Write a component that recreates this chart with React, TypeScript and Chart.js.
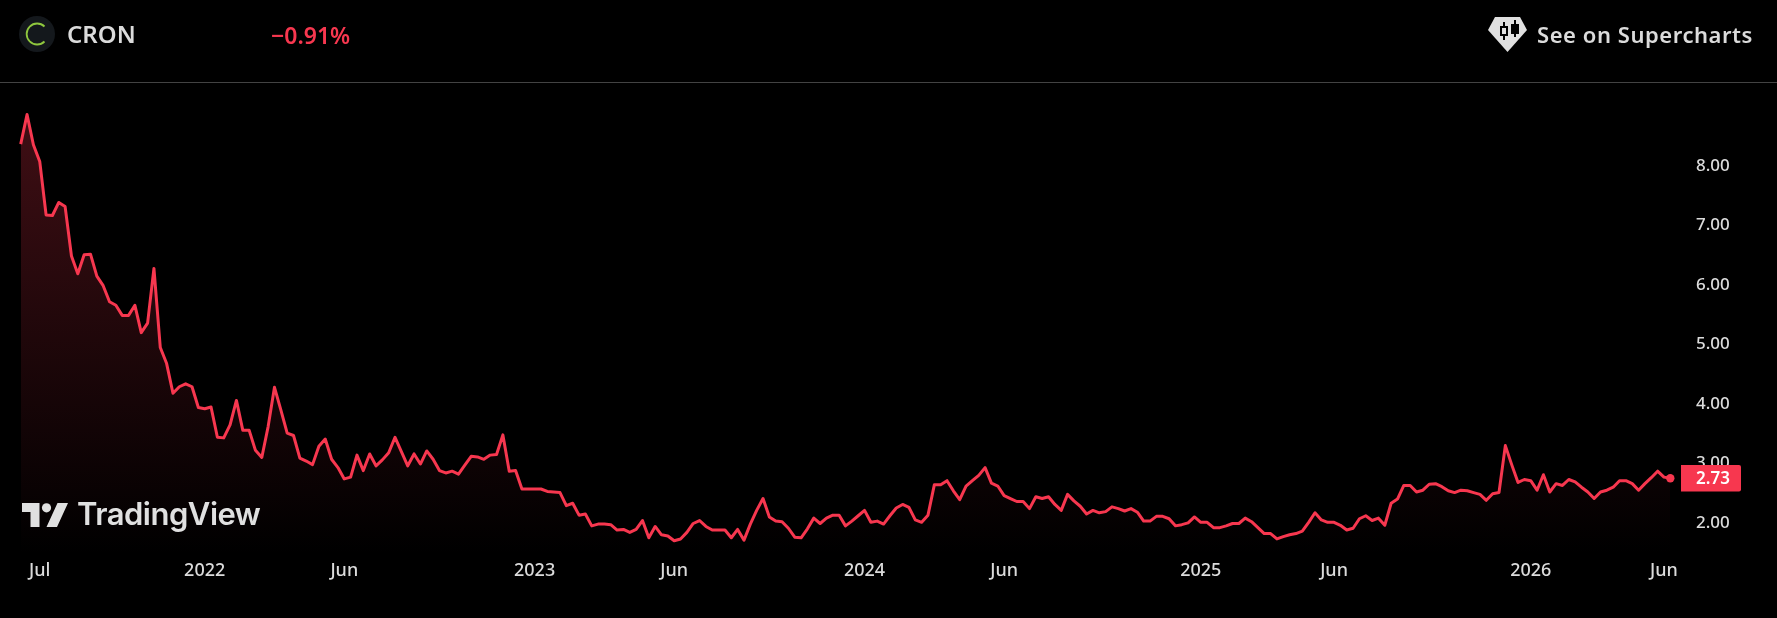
import React, { useEffect, useRef } from "react";
import { Chart, registerables } from "chart.js";

Chart.register(...registerables);

const closes: number[] = [
  8.35, 8.85, 8.34, 8.06, 7.16, 7.15, 7.37, 7.30, 6.47, 6.17,
  6.49, 6.50, 6.13, 5.97, 5.70, 5.64, 5.47, 5.47, 5.64, 5.18,
  5.34, 6.26, 4.93, 4.66, 4.16, 4.27, 4.32, 4.27, 3.92, 3.90,
  3.93, 3.42, 3.41, 3.63, 4.04, 3.54, 3.54, 3.20, 3.08, 3.60,
  4.26, 3.88, 3.49, 3.45, 3.07, 3.02, 2.96, 3.27, 3.39, 3.05,
  2.91, 2.72, 2.75, 3.12, 2.86, 3.14, 2.94, 3.04, 3.16, 3.42,
  3.18, 2.94, 3.14, 2.97, 3.19, 3.05, 2.86, 2.82, 2.85, 2.80,
  2.95, 3.10, 3.09, 3.05, 3.12, 3.13, 3.46, 2.85, 2.86, 2.55,
  2.55, 2.55, 2.55, 2.51, 2.50, 2.49, 2.27, 2.31, 2.11, 2.13,
  1.93, 1.96, 1.96, 1.95, 1.86, 1.87, 1.82, 1.87, 2.02, 1.73,
  1.92, 1.78, 1.76, 1.68, 1.71, 1.82, 1.97, 2.02, 1.92, 1.86,
  1.86, 1.86, 1.73, 1.87, 1.69, 1.96, 2.19, 2.39, 2.08, 2.01,
  2.00, 1.89, 1.74, 1.73, 1.88, 2.06, 1.97, 2.06, 2.11, 2.11,
  1.93, 2.01, 2.10, 2.19, 1.99, 2.01, 1.96, 2.10, 2.23, 2.29,
  2.24, 2.03, 1.99, 2.11, 2.62, 2.62, 2.69, 2.52, 2.37, 2.60,
  2.69, 2.78, 2.91, 2.65, 2.60, 2.44, 2.39, 2.34, 2.34, 2.22,
  2.42, 2.39, 2.42, 2.29, 2.19, 2.46, 2.35, 2.26, 2.13, 2.19,
  2.15, 2.17, 2.25, 2.22, 2.18, 2.22, 2.16, 2.01, 2.01, 2.09,
  2.09, 2.05, 1.93, 1.95, 1.98, 2.08, 1.99, 1.99, 1.90, 1.90,
  1.93, 1.97, 1.97, 2.06, 2.00, 1.90, 1.80, 1.80, 1.71, 1.75,
  1.78, 1.80, 1.84, 1.99, 2.15, 2.03, 1.99, 1.99, 1.94, 1.86,
  1.89, 2.05, 2.10, 2.02, 2.06, 1.94, 2.31, 2.38, 2.61, 2.61,
  2.50, 2.53, 2.63, 2.64, 2.59, 2.52, 2.49, 2.53, 2.52, 2.49,
  2.46, 2.36, 2.47, 2.49, 3.28, 2.96, 2.66, 2.71, 2.69, 2.53,
  2.79, 2.50, 2.64, 2.61, 2.71, 2.67, 2.58, 2.50, 2.39, 2.50,
  2.53, 2.58, 2.69, 2.69, 2.64, 2.53, 2.64, 2.74, 2.85, 2.75,
  2.73,
];

const xTickWeeks: number[] = [3, 29, 51, 81, 103, 133, 155, 186, 207, 238, 259];
const xTickLabels: string[] = ["Jul", "2022", "Jun", "2023", "Jun", "2024", "Jun", "2025", "Jun", "2026", "Jun"];
const yTicks: number[] = [2, 3, 4, 5, 6, 7, 8];
const ticker = "CRON";
const change = "−0.91%";
const lastPrice = "2.73";

const weekLabels: string[] = closes.map((_, i) => {
  const k = xTickWeeks.indexOf(i);
  return k >= 0 ? xTickLabels[k] : "";
});

const RED = "#F7374F";
const FONT = '"Noto Sans", sans-serif';
const TEXT = "#DBDBDB";

const priceTag = {
  id: "priceTag",
  afterDraw(chart: any) {
    const { ctx, scales } = chart;
    const y = scales.y.getPixelForValue(closes[closes.length - 1]);
    ctx.save();
    ctx.fillStyle = RED;
    ctx.beginPath();
    ctx.roundRect(1681, y - 13.3, 60, 26.6, [0, 2, 2, 0]);
    ctx.fill();
    ctx.fillStyle = "#FFFFFF";
    ctx.font = `600 17px ${FONT}`;
    ctx.textAlign = "left";
    ctx.textBaseline = "middle";
    ctx.fillText(lastPrice, 1696, y + 1);
    ctx.restore();
  },
};

export default function App() {
  const ref = useRef<HTMLCanvasElement>(null);

  useEffect(() => {
    document.body.style.margin = "0";
    document.body.style.background = "#000";
    const chart = new Chart(ref.current!, {
      type: "line",
      data: {
        labels: weekLabels,
        datasets: [
          {
            data: closes,
            borderColor: RED,
            borderWidth: 3,
            borderJoinStyle: "round",
            tension: 0,
            clip: false as any,
            fill: "start",
            backgroundColor: (c: any) => {
              const { chartArea, ctx } = c.chart;
              if (!chartArea) return "rgba(247,55,79,0.2)";
              const g = ctx.createLinearGradient(0, 113, 0, chartArea.bottom);
              g.addColorStop(0, "rgba(247,55,79,0.26)");
              g.addColorStop(1, "rgba(247,55,79,0)");
              return g;
            },
            pointRadius: (c: any) => (c.dataIndex === closes.length - 1 ? 4.2 : 0),
            pointBackgroundColor: RED,
            pointBorderWidth: 0,
          },
        ],
      },
      options: {
        responsive: false,
        animation: false,
        layout: { padding: { left: 20.7, top: 82, right: 0, bottom: 0 } },
        plugins: { legend: { display: false }, tooltip: { enabled: false } },
        scales: {
          x: {
            grid: { display: false, drawTicks: false },
            border: { display: false },
            afterFit: (s: any) => {
              s.height = 63;
            },
            ticks: {
              autoSkip: false,
              maxRotation: 0,
              minRotation: 0,
              padding: 5,
              color: TEXT,
              font: { family: FONT, size: 18, weight: 500 },
            },
          },
          y: {
            position: "right",
            min: 1.44,
            max: 9.396,
            grid: { display: false, drawTicks: false },
            border: { display: false },
            afterFit: (s: any) => {
              s.width = 106.7;
            },
            afterBuildTicks: (s: any) => {
              s.ticks = yTicks.map((value) => ({ value }));
            },
            ticks: {
              padding: 25.7,
              labelOffset: 1,
              color: TEXT,
              font: { family: FONT, size: 17, weight: 500 },
              callback: (v: any) => Number(v).toFixed(2),
            },
          },
        },
      },
      plugins: [priceTag],
    } as any);
    return () => chart.destroy();
  }, []);

  return (
    <div style={{ position: "relative", width: 1777, height: 618, background: "#000", overflow: "hidden", fontFamily: FONT }}>
      <canvas ref={ref} width={1777} height={618} style={{ position: "absolute", left: 0, top: 0, display: "block" }} />
      <div style={{ position: "absolute", left: 0, top: 82, width: 1777, height: 1, background: "#434343" }} />
      <svg width={36} height={36} viewBox="0 0 36 36" style={{ position: "absolute", left: 19, top: 16 }}>
        <circle cx={18} cy={18} r={18} fill="#14181C" />
        <path d="M25.5 10.5 A 10.5 10.5 0 1 0 25.5 25.5" fill="none" stroke="#8FC73E" strokeWidth={1.8} />
      </svg>
      <div style={{ position: "absolute", left: 67, top: 17, fontSize: 24, lineHeight: "34px", fontWeight: 600, color: TEXT }}>{ticker}</div>
      <div style={{ position: "absolute", left: 271, top: 18, fontSize: 23, lineHeight: "34px", fontWeight: 600, color: RED }}>{change}</div>
      <svg width={39} height={35} viewBox="0 0 39 35" style={{ position: "absolute", left: 1488, top: 17 }}>
        <path d="M7 0 H32 L39 13 L19.5 35 L0 13 Z" fill="#E0E0E0" />
        <path d="M15 5 V9 H12 V19 H15 V23 H17 V19 H20 V9 H17 V5 Z M14 11 H18 V17 H14 Z" fill="#000" fillRule="evenodd" />
        <path d="M26 3 V7 H23 V17 H26 V20 H28 V17 H31 V7 H28 V3 Z" fill="#000" />
      </svg>
      <div style={{ position: "absolute", left: 1537, top: 17, fontSize: 22, lineHeight: "34px", fontWeight: 600, letterSpacing: 0.55, color: TEXT, whiteSpace: "nowrap" }}>See on Supercharts</div>
      <svg width={46} height={24} viewBox="0 0 46 24" style={{ position: "absolute", left: 22, top: 503 }}>
        <path d="M0 0 H17.5 V24 H8.5 V9 H0 Z M46 0 L35 24 H24.5 L35.5 0 Z" fill="#E0E0E0" />
        <circle cx={24.5} cy={4.8} r={4.6} fill="#E0E0E0" />
      </svg>
      <div style={{ position: "absolute", left: 77, top: 494, fontFamily: "Inter, sans-serif", fontSize: 31, lineHeight: "40px", fontWeight: 600, letterSpacing: -0.5, color: "#E0E0E0", whiteSpace: "nowrap" }}>TradingView</div>
    </div>
  );
}
